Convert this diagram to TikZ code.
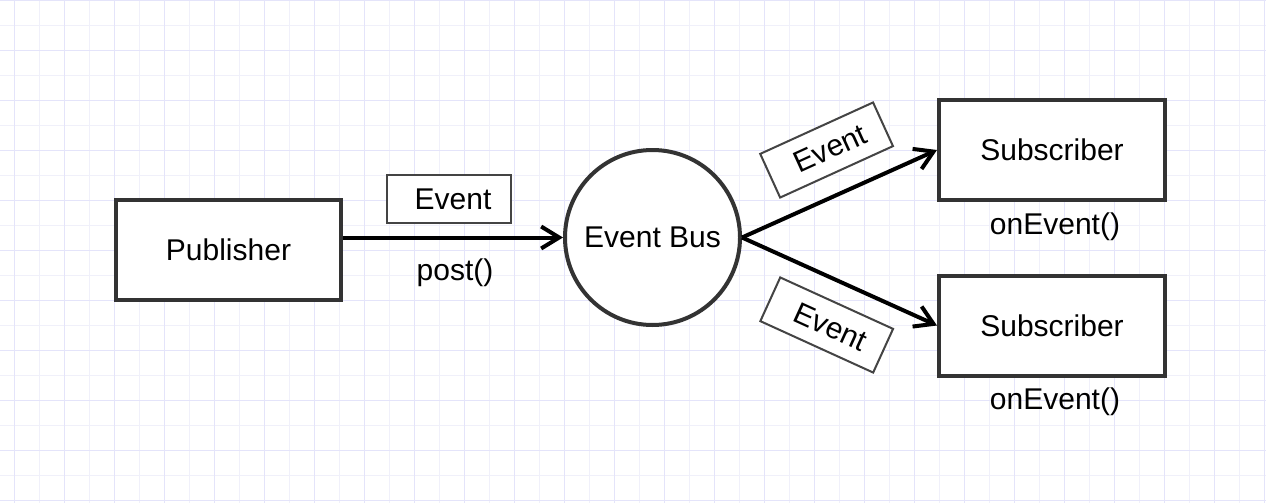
\documentclass[tikz,border=0pt]{standalone}
\usepackage{fontspec}
\setmainfont{Liberation Sans}
\usetikzlibrary{arrows.meta}
\definecolor{gridmajor}{RGB}{228,228,250}
\definecolor{gridminor}{RGB}{240,240,250}
\definecolor{boxline}{RGB}{51,51,51}
\definecolor{tagline}{RGB}{68,68,68}
\tikzset{
  txt/.style={font=\fontsize{30}{36}\selectfont, inner sep=0pt, text=black},
  block/.style={txt, draw=boxline, line width=4pt, fill=white, rectangle, minimum width=225pt, minimum height=100pt, inner sep=0pt},
  bus/.style={txt, draw=boxline, line width=4pt, fill=white, circle, minimum size=175pt, inner sep=0pt},
  tag/.style={txt, draw=tagline, line width=2pt, fill=white, rectangle, minimum width=124pt, minimum height=48pt, inner sep=0pt},
  flow/.style={draw=black, line width=4pt, -{Straight Barb[length=18pt,width=22pt]}},
}
\begin{document}
\begin{tikzpicture}[x=1pt,y=-1pt]
\useasboundingbox (0,0) rectangle (1266,503);
\fill[white] (0,0) rectangle (1266,503);
% grid
\foreach \gx in {39.3,89.3,...,1266} {\draw[gridminor, line width=1pt] (\gx,0) -- (\gx,503);}
\foreach \gy in {25.5,75.5,...,503} {\draw[gridminor, line width=1pt] (0,\gy) -- (1266,\gy);}
\foreach \gx in {14.3,64.3,...,1266} {\draw[gridmajor, line width=1pt] (\gx,0) -- (\gx,503);}
\foreach \gy in {0.5,50.5,...,503} {\draw[gridmajor, line width=1pt] (0,\gy) -- (1266,\gy);}

% nodes
\node[block] (pub) at (228.5,250) {Publisher};
\node[bus] (bus) at (652.5,237.5) {Event Bus};
\node[block, minimum width=226pt] (sub1) at (1052,150) {Subscriber};
\node[block, minimum width=226pt] (sub2) at (1052,325.5) {Subscriber};

\node[tag] (ev0) at (449,199) {\hspace{8pt}Event};
\node[tag, rotate=24.5] (ev1) at (826.6,150) {\hspace{8pt}Event};
\node[tag, rotate=-24.5] (ev2) at (826.7,325) {\hspace{8pt}Event};

\node[txt] (post) at (455,273) {post()};
\node[txt] (on1) at (1055,227) {onEvent()};
\node[txt] (on2) at (1055,402) {onEvent()};

% connectors
\draw[flow] (pub.east |- bus.west) -- (bus.west);
\draw[flow] (bus.east) -- (sub1.west);
\draw[flow] (bus.east) -- (sub2.west);
\end{tikzpicture}
\end{document}
